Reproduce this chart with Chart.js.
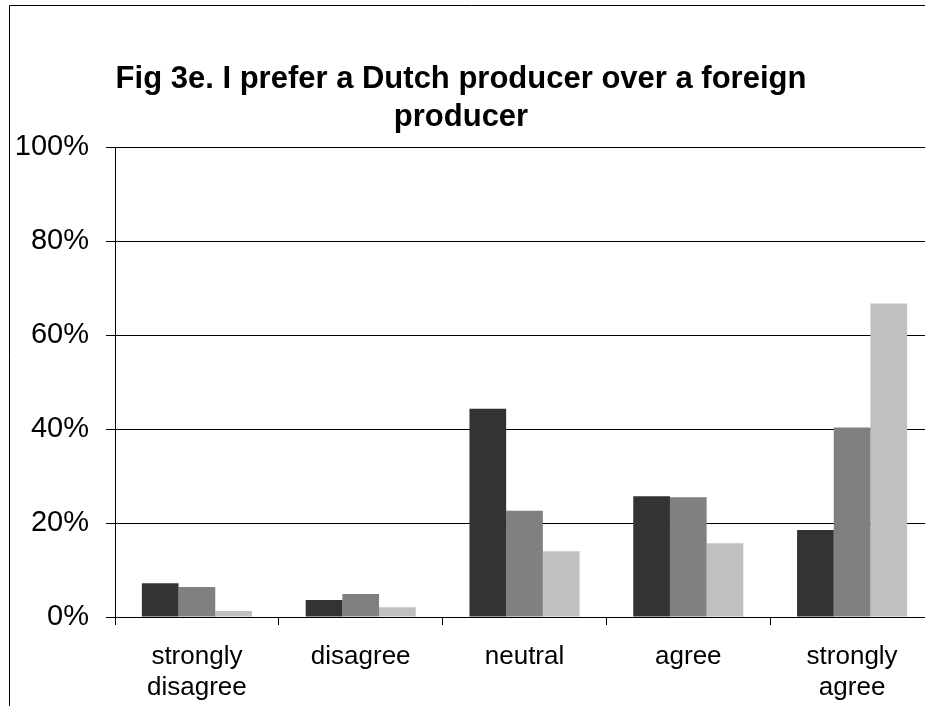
<!DOCTYPE html>
<html>
<head>
<meta charset="utf-8">
<script src="https://cdn.jsdelivr.net/npm/chart.js@4"></script>
<style>
html,body{margin:0;padding:0;background:#fff;overflow:hidden;}
#wrap{position:absolute;left:0;top:0;width:925px;height:706px;overflow:hidden;}
canvas{display:block;}
</style>
</head>
<body>
<div id="wrap"><canvas id="c" width="934" height="706"></canvas></div>
<script>
const titleLines = ["Fig 3e. I prefer a Dutch producer over a foreign", "producer"];
const categories = [["strongly", "disagree"], "disagree", "neutral", "agree", ["strongly", "agree"]];
const series1 = [7.2, 3.6, 44.3, 25.7, 18.5];
const series2 = [6.4, 4.9, 22.6, 25.5, 40.3];
const series3 = [1.3, 2.1, 14.0, 15.7, 66.7];
const yTicks = [0, 20, 40, 60, 80, 100];

const FONT = "'Liberation Sans', Arial, Helvetica, sans-serif";

const decor = {
  id: 'decor',
  beforeDraw(chart) {
    const ctx = chart.ctx;
    ctx.save();
    ctx.fillStyle = '#fff';
    ctx.fillRect(0, 0, chart.width, chart.height);
    ctx.strokeStyle = '#000';
    ctx.lineWidth = 1;
    ctx.beginPath();
    ctx.moveTo(9.5, chart.height);
    ctx.lineTo(9.5, 5.5);
    ctx.lineTo(chart.width, 5.5);
    ctx.stroke();
    ctx.restore();
  },
  afterDraw(chart) {
    const ctx = chart.ctx;
    ctx.save();
    ctx.fillStyle = '#000';
    ctx.font = "bold 31px " + FONT;
    ctx.textAlign = 'center';
    ctx.textBaseline = 'alphabetic';
    ctx.fillText(titleLines[0], 461, 88);
    ctx.fillText(titleLines[1], 461, 126);
    ctx.restore();
  }
};

new Chart(document.getElementById('c'), {
  type: 'bar',
  data: {
    labels: categories,
    datasets: [
      { label: 'Series 1', data: series1, backgroundColor: '#333333' },
      { label: 'Series 2', data: series2, backgroundColor: '#808080' },
      { label: 'Series 3', data: series3, backgroundColor: '#c0c0c0' }
    ]
  },
  options: {
    responsive: false,
    devicePixelRatio: 1,
    animation: false,
    layout: { padding: { left: 0, right: 0, top: 147, bottom: 0 } },
    datasets: { bar: { categoryPercentage: 0.672, barPercentage: 1.0, borderWidth: 0 } },
    plugins: {
      legend: { display: false },
      title: { display: false },
      tooltip: { enabled: false }
    },
    scales: {
      x: {
        offset: true,
        grid: { offset: true, drawOnChartArea: false, drawTicks: true, tickLength: 8, color: '#000', lineWidth: 1 },
        border: { display: true, color: '#000', width: 1 },
        ticks: { color: '#000', font: { family: FONT, size: 26, lineHeight: 1.2 }, padding: 16, maxRotation: 0, autoSkip: false },
        afterFit(scale) { scale.height = 89; }
      },
      y: {
        min: 0, max: 100,
        afterBuildTicks(scale) { scale.ticks = yTicks.map(v => ({ value: v })); },
        grid: { color: '#000', lineWidth: 1, tickLength: 9, drawTicks: true },
        border: { display: true, color: '#000', width: 1 },
        ticks: { color: '#000', font: { family: FONT, size: 29 }, padding: 17, callback: v => v + '%' },
        afterFit(scale) { scale.width = 115; }
      }
    }
  },
  plugins: [decor]
});
</script>
</body>
</html>
